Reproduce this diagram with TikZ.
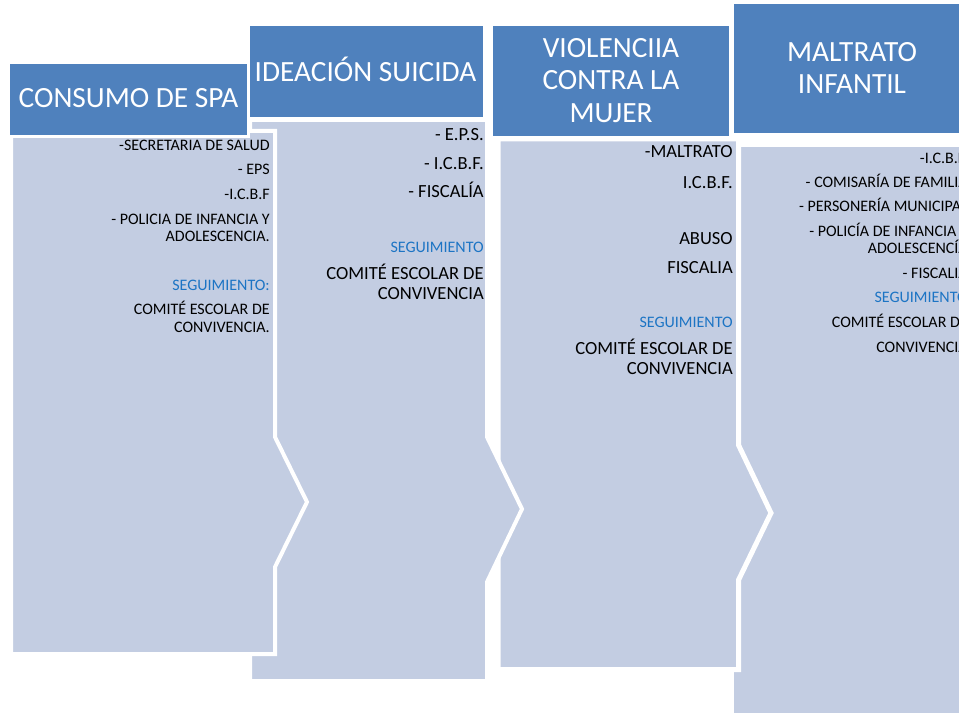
\documentclass[tikz,border=0pt]{standalone}
\usepackage{fontspec}
\setmainfont{Carlito}
\definecolor{bodyc}{RGB}{195,205,226}
\definecolor{headc}{RGB}{79,129,189}
\definecolor{segblue}{RGB}{28,116,196}
\tikzset{
  bodyshape/.style={fill=bodyc, draw=white, line width=3pt, line join=miter},
  headshape/.style={fill=headc, draw=white, line width=2.25pt},
  sm/.style={font=\fontsize{12}{13}\selectfont, inner sep=0pt, anchor=base east, text=black},
  md/.style={font=\fontsize{13.9}{15}\selectfont, inner sep=0pt, anchor=base east, text=black},
  seg/.style={sm, text=segblue},
  hd/.style={font=\fontsize{22}{24}\selectfont, inner sep=0pt, anchor=base, text=white},
}
\begin{document}
\begin{tikzpicture}[x=0.75pt,y=-0.75pt]
\useasboundingbox (0,0) rectangle (959,713);
\clip (0,0) rectangle (959,713);
% bodies (drawn right to left so each chevron overlaps the next body)
\path[bodyshape] (732,145) -- (990,145) -- (990,730) -- (732,730) -- cycle;
\path[bodyshape, line width=3.75pt] (498,139) -- (738.5,139) -- (738.5,445) -- (771,513) -- (738.5,580) -- (738.5,669.5) -- (498,669.5) -- cycle;
\path[bodyshape] (250,120) -- (487,120) -- (487,437) -- (522,509) -- (487,582) -- (487,681) -- (250,681) -- cycle;
\path[bodyshape] (11,131) -- (275,131) -- (275,437) -- (307,502) -- (275,567) -- (275,654) -- (11,654) -- cycle;
% body 1 texts
\node[sm] (a1) at (270,151) {-SECRETARIA DE SALUD};
\node[sm] (a2) at (270,175) {- EPS};
\node[sm] (a3) at (270,199) {-I.C.B.F};
\node[sm] (a4) at (270,224) {- POLICIA DE INFANCIA Y};
\node[sm] (a5) at (270,241) {ADOLESCENCIA.};
\node[seg] (a6) at (270,290) {SEGUIMIENTO:};
\node[sm] (a7) at (270,314) {COMITÉ ESCOLAR DE};
\node[sm] (a8) at (270,332) {CONVIVENCIA.};
% body 2 texts
\node[md] (b1) at (484,141) {- E.P.S.};
\node[md] (b2) at (484,169) {- I.C.B.F.};
\node[md] (b3) at (484,197) {- FISCALÍA};
\node[seg] (b4) at (484,252) {SEGUIMIENTO};
\node[md] (b5) at (484,279) {COMITÉ ESCOLAR DE};
\node[md] (b6) at (484,299) {CONVIVENCIA};
% body 3 texts
\node[md] (c1) at (733,157) {-MALTRATO};
\node[md] (c2) at (733,188) {I.C.B.F.};
\node[md] (c3) at (733,244) {ABUSO};
\node[md] (c4) at (733,273) {FISCALIA};
\node[seg] (c5) at (733,327) {SEGUIMIENTO};
\node[md] (c6) at (733,354) {COMITÉ ESCOLAR DE};
\node[md] (c7) at (733,374) {CONVIVENCIA};
% body 4 texts (cut by the picture's right edge, as in the reference)
\node[sm] (d1) at (968,163) {-I.C.B.F.};
\node[sm] (d2) at (968,187) {- COMISARÍA DE FAMILIA};
\node[sm] (d3) at (968,211) {- PERSONERÍA MUNICIPAL};
\node[sm] (d4) at (968,236) {- POLICÍA DE INFANCIA Y};
\node[sm] (d5) at (968,253) {ADOLESCENCÍA};
\node[sm] (d6) at (968,278) {- FISCALIA};
\node[seg] (d7) at (968,302) {SEGUIMIENTO};
\node[sm] (d8) at (968,327) {COMITÉ ESCOLAR DE};
\node[sm] (d9) at (968,352) {CONVIVENCIA};
% headers
\path[headshape] (732.5,2.5) rectangle (975,134.5);
\path[headshape] (491.5,24.5) rectangle (730.5,137.5);
\path[headshape] (248.5,24.5) rectangle (484.5,118.5);
\path[headshape] (8.5,62.5) rectangle (248.5,136.5);
\node[hd] (h1) at (128.5,108) {CONSUMO DE SPA};
\node[hd] (h2) at (365.5,81.2) {IDEACIÓN SUICIDA};
\node[hd] (h3a) at (611,57.7) {VIOLENCIIA};
\node[hd] (h3b) at (611,90) {CONTRA LA};
\node[hd] (h3c) at (611,122.3) {MUJER};
\node[hd] (h4a) at (852,61.7) {MALTRATO};
\node[hd] (h4b) at (852,93.3) {INFANTIL};
\end{tikzpicture}
\end{document}
